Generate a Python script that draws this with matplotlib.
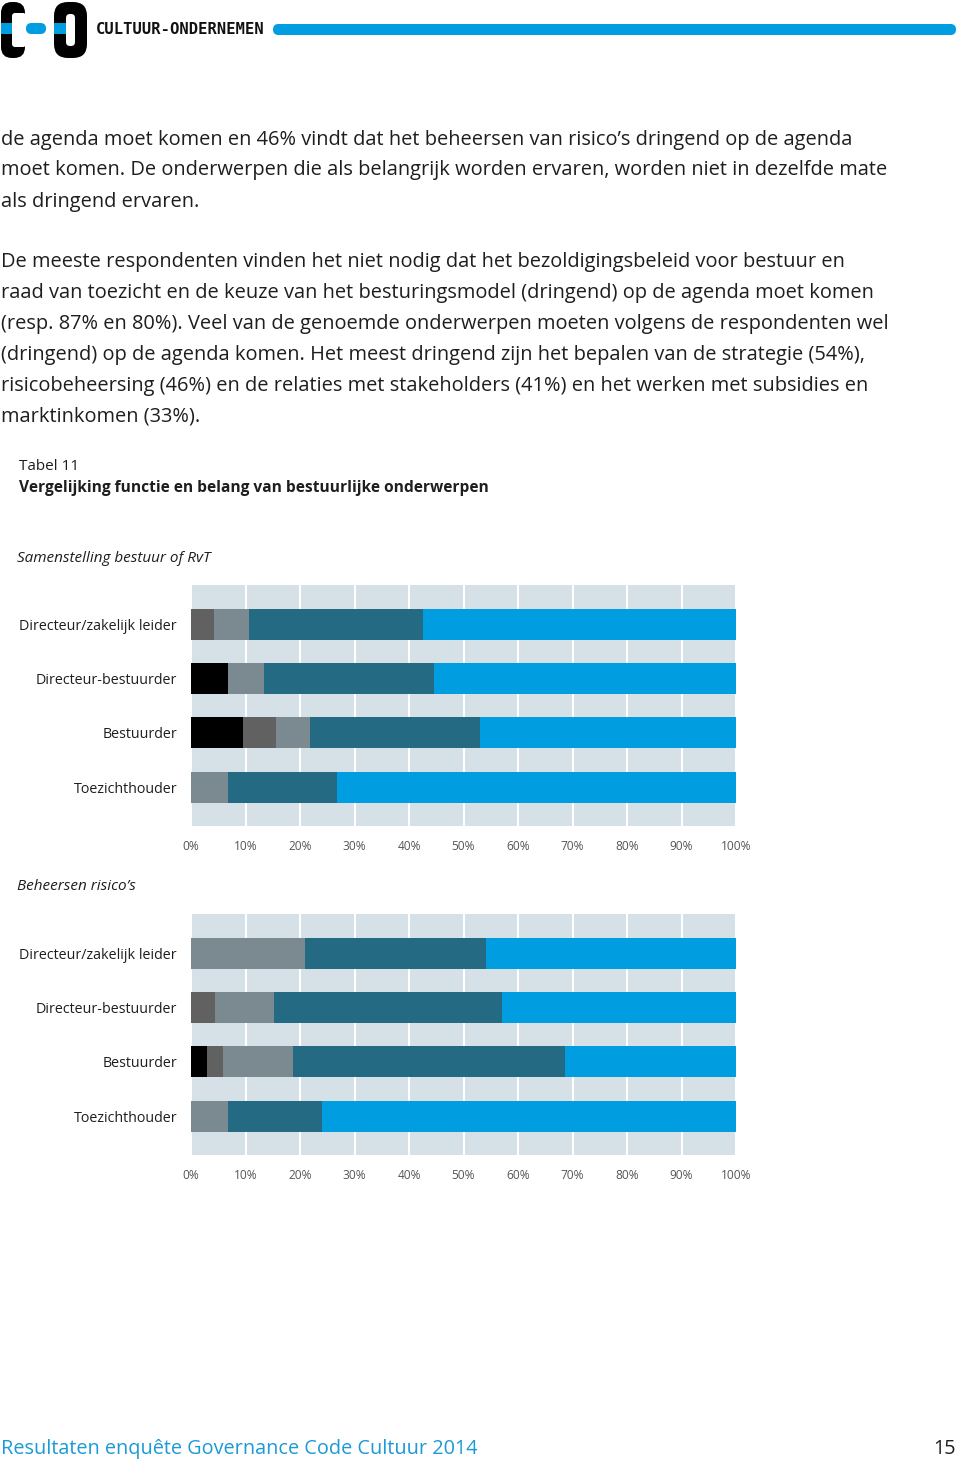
import matplotlib.pyplot as plt
from matplotlib.patches import FancyBboxPatch, Rectangle
import numpy as np

# data
roles = ["Directeur/zakelijk leider", "Directeur-bestuurder", "Bestuurder", "Toezichthouder"]
ticks = [0, 10, 20, 30, 40, 50, 60, 70, 80, 90, 100]
tick_labels = [f"{t}%" for t in ticks]

# five answer levels per row (black, dark grey, grey, teal, blue), in %
samenstelling = [
    [0.0, 4.3, 6.4, 31.8, 57.5],
    [6.7, 0.0, 6.7, 31.1, 55.5],
    [9.5, 6.1, 6.3, 31.2, 46.9],
    [0.0, 0.0, 6.7, 20.1, 73.2],
]
beheersen = [
    [0.0, 0.0, 20.9, 33.3, 45.8],
    [0.0, 4.4, 10.9, 41.8, 42.9],
    [3.0, 2.8, 12.9, 49.9, 31.4],
    [0.0, 0.0, 6.7, 17.3, 76.0],
]
seg_colors = ["#000000", "#616161", "#7b8990", "#236a82", "#009de0"]

para1 = [
    "de agenda moet komen en 46% vindt dat het beheersen van risico\u2019s dringend op de agenda",
    "moet komen. De onderwerpen die als belangrijk worden ervaren, worden niet in dezelfde mate",
    "als dringend ervaren.",
]
para2 = [
    "De meeste respondenten vinden het niet nodig dat het bezoldigingsbeleid voor bestuur en",
    "raad van toezicht en de keuze van het besturingsmodel (dringend) op de agenda moet komen",
    "(resp. 87% en 80%). Veel van de genoemde onderwerpen moeten volgens de respondenten wel",
    "(dringend) op de agenda komen. Het meest dringend zijn het bepalen van de strategie (54%),",
    "risicobeheersing (46%) en de relaties met stakeholders (41%) en het werken met subsidies en",
    "marktinkomen (33%).",
]

plt.rcParams['font.family'] = ['Open Sans', 'DejaVu Sans']
BLUE = "#009de0"
INK = "#1e1e1e"
W, H = 960, 1461
fig = plt.figure(figsize=(W / 100, H / 100), dpi=100)

# page overlay in pixel coordinates
page = fig.add_axes([0, 0, 1, 1])
page.set_xlim(0, W)
page.set_ylim(H, 0)
page.axis("off")

# logo "C-O"
page.add_patch(FancyBboxPatch((1, 2), 24, 56, boxstyle="round,pad=0,rounding_size=11", fc="black", ec="none"))
page.add_patch(FancyBboxPatch((12, 13), 14, 34, boxstyle="round,pad=0,rounding_size=3", fc="white", ec="none"))
page.add_patch(Rectangle((1, 23), 11, 11, fc=BLUE, ec="none"))
page.add_patch(FancyBboxPatch((26, 23), 20, 11, boxstyle="round,pad=0,rounding_size=5.5", fc=BLUE, ec="none"))
page.add_patch(FancyBboxPatch((54, 2), 33, 56, boxstyle="round,pad=0,rounding_size=14", fc="black", ec="none"))
page.add_patch(FancyBboxPatch((66, 14), 9, 32, boxstyle="round,pad=0,rounding_size=4", fc="white", ec="none"))
page.add_patch(Rectangle((54, 23), 12, 11, fc=BLUE, ec="none"))
page.text(96, 30, "CULTUUR-ONDERNEMEN", family="DejaVu Sans Mono", weight="bold",
          fontsize=11.2, va="center", ha="left", color="#111111")
page.add_patch(FancyBboxPatch((273, 24), 683, 11, boxstyle="round,pad=0,rounding_size=5.5", fc=BLUE, ec="none"))

# body text
for i, line in enumerate(para1):
    page.text(1, 139.5 + 31 * i, line, fontsize=14.4, va="center", ha="left", color=INK)
for i, line in enumerate(para2):
    page.text(1, 262.5 + 30.8 * i, line, fontsize=14.4, va="center", ha="left", color=INK)

page.text(19, 467, "Tabel 11", fontsize=11, va="center", color=INK)
page.text(19, 488, "Vergelijking functie en belang van bestuurlijke onderwerpen", fontsize=11.2,
          weight="bold", va="center", color=INK)
page.text(17, 558, "Samenstelling bestuur of RvT", fontsize=11, style="italic", va="center", color=INK)
page.text(17, 887, "Beheersen risico\u2019s", fontsize=11, style="italic", va="center", color=INK)

page.text(1, 1449, "Resultaten enqu\u00eate Governance Code Cultuur 2014", fontsize=14.3,
          va="center", color="#1a9ad6")
page.text(956, 1449, "15", fontsize=14.3, va="center", ha="right", color=INK)


def stacked(rect, rows):
    ax = fig.add_axes(rect)
    ax.set_facecolor("#d6e1e7")
    vals = np.array(rows)
    y = np.arange(len(roles))
    left = np.zeros(len(roles))
    for k in range(vals.shape[1]):
        ax.barh(y, vals[:, k], left=left, height=0.57, color=seg_colors[k], zorder=3)
        left += vals[:, k]
    ax.set_xlim(0, 100)
    ax.set_ylim(len(roles) - 1 + 0.71, -0.72)
    ax.set_xticks(ticks)
    ax.set_xticklabels(tick_labels, fontsize=8.6, color="#555555")
    ax.set_yticks(y)
    ax.set_yticklabels(roles, fontsize=10.3, color=INK)
    ax.tick_params(length=0)
    ax.tick_params(axis="x", pad=10)
    ax.tick_params(axis="y", pad=10)
    ax.grid(axis="x", color="white", linewidth=1.5, zorder=1)
    ax.set_axisbelow(True)
    for s in ax.spines.values():
        s.set_visible(False)
    return ax


stacked([191 / W, (H - 826) / H, 545 / W, 241 / H], samenstelling)
stacked([191 / W, (H - 1155) / H, 545 / W, 241 / H], beheersen)

fig.savefig("out.png", dpi=100)
